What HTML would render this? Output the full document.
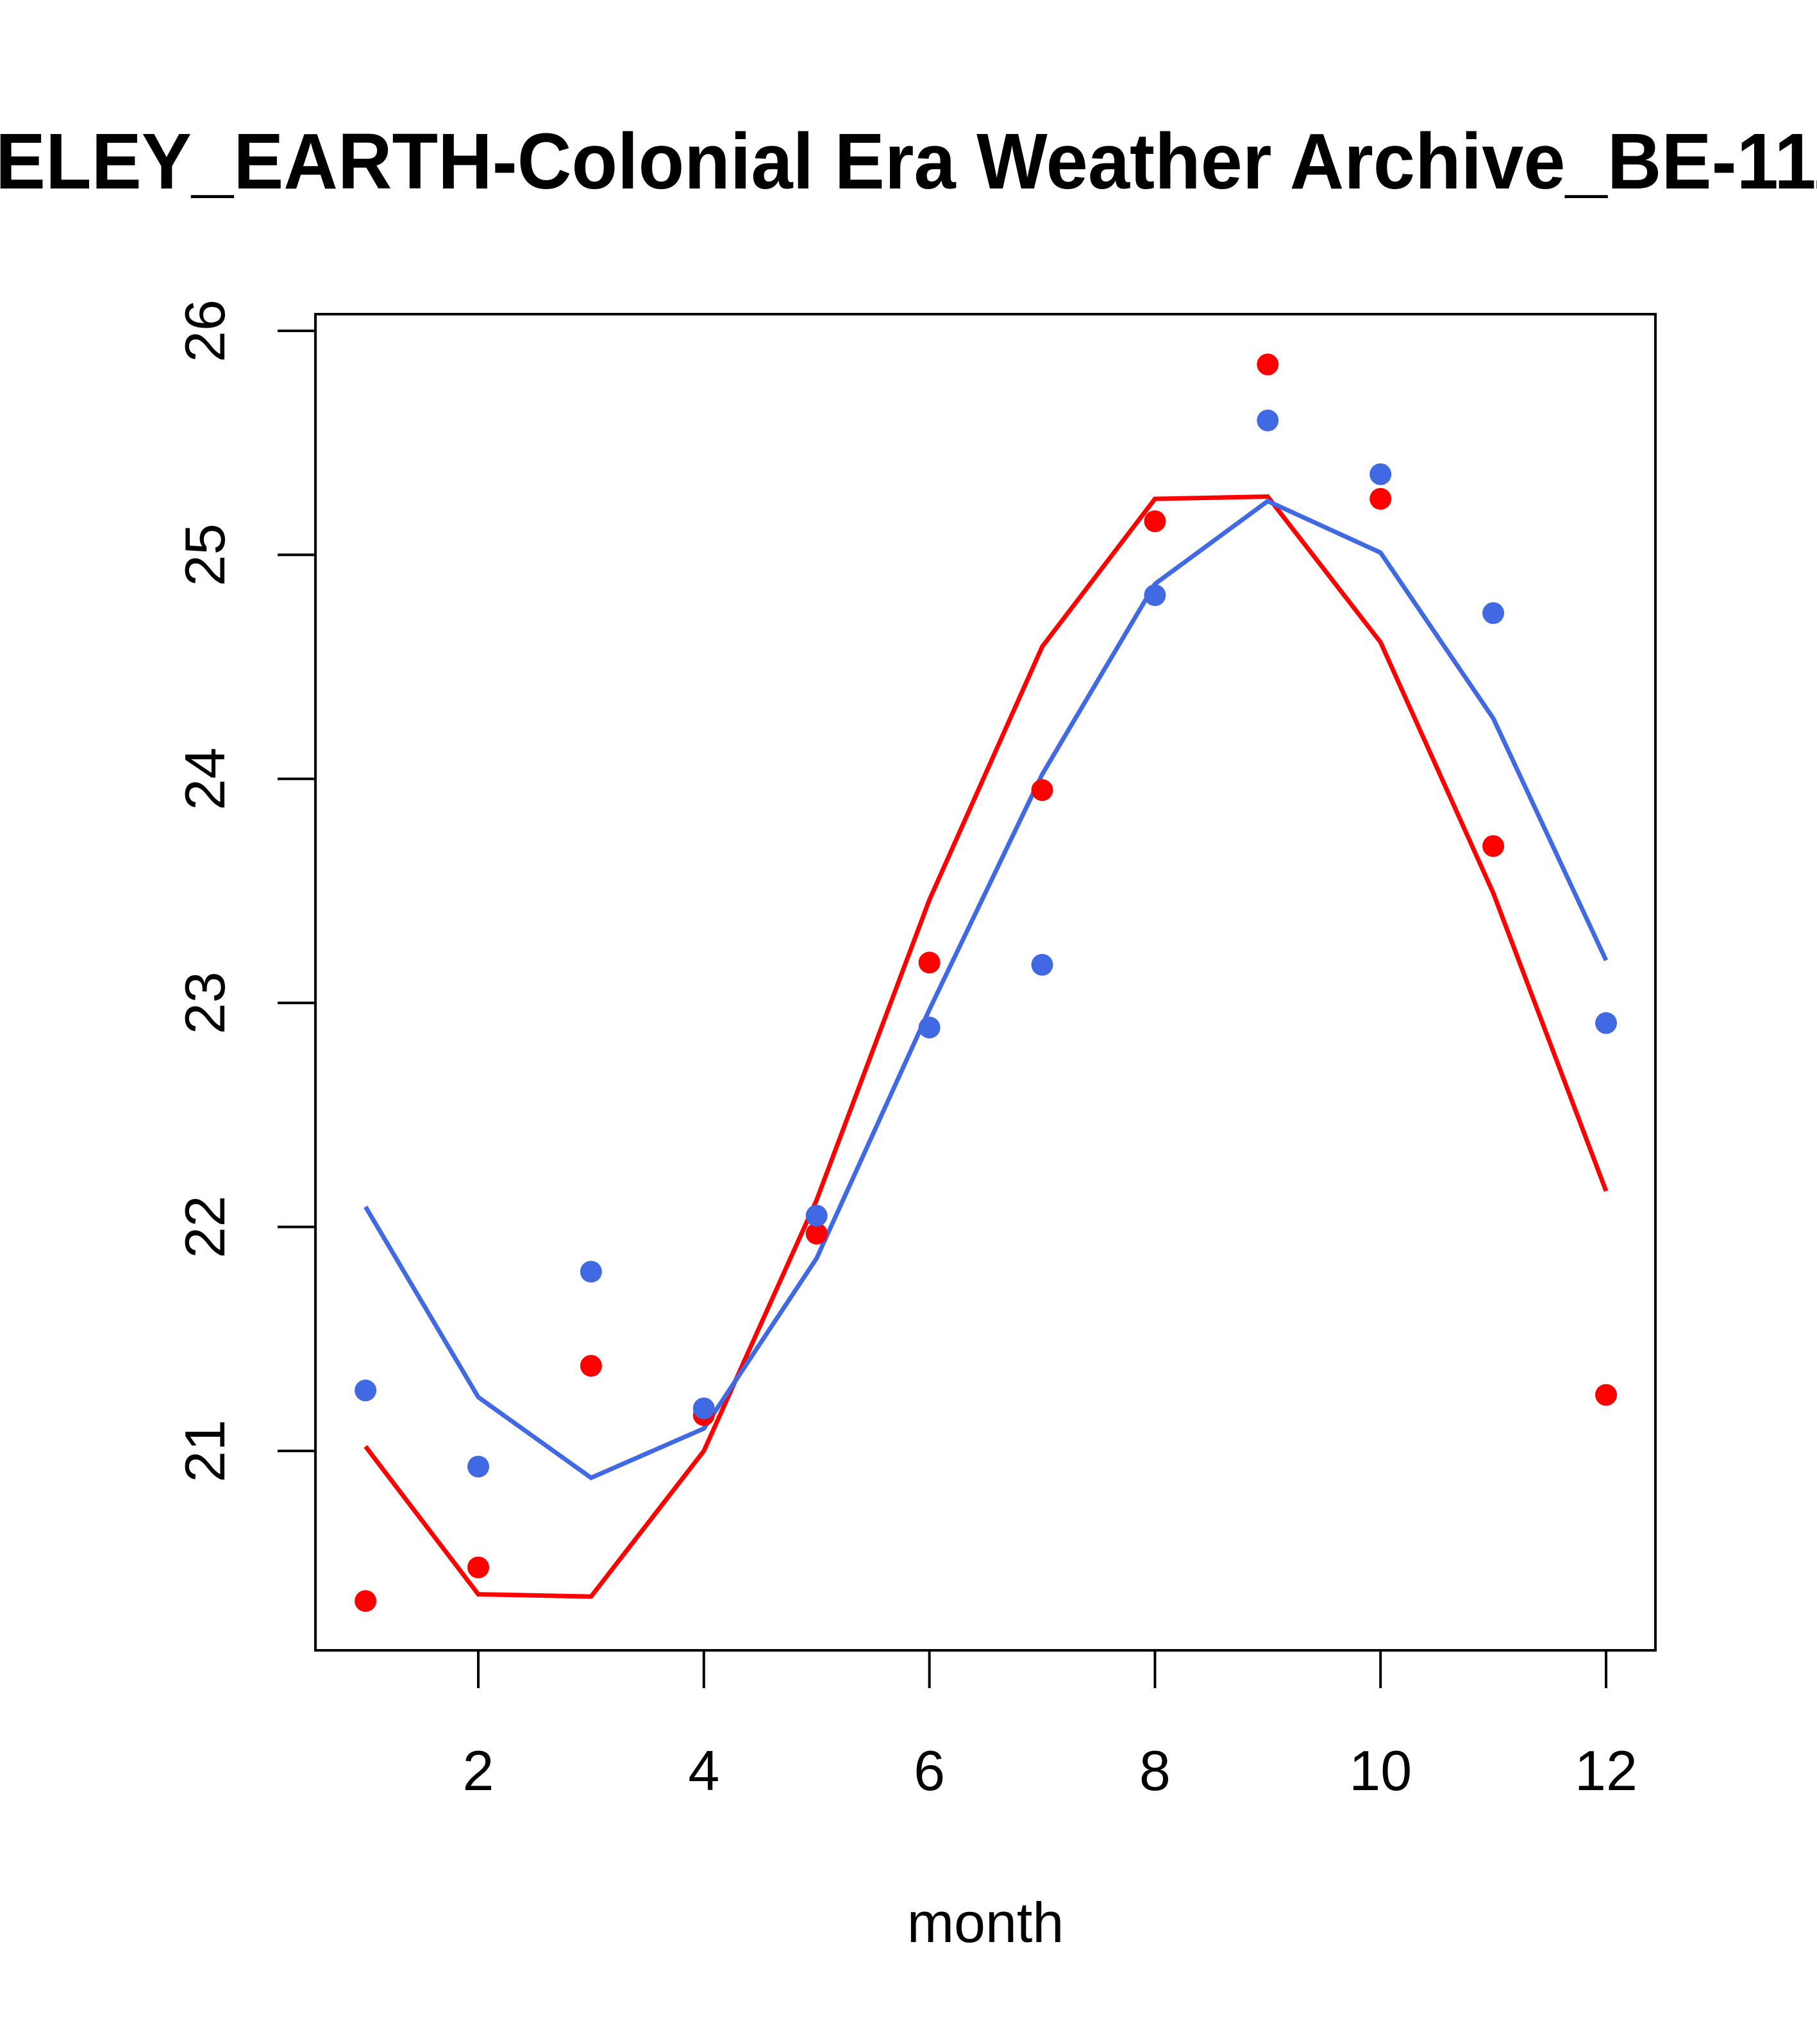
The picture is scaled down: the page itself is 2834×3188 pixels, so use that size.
<!DOCTYPE html>
<html><head><meta charset="utf-8"><style>html,body{margin:0;padding:0;background:#fff;overflow:hidden}svg{display:block}</style></head>
<body>
<svg id="chart" width="2834" height="3188" viewBox="0 0 2834 3188" xmlns="http://www.w3.org/2000/svg" font-family="Liberation Sans, sans-serif">
<text x="-356" y="294" font-size="123" font-weight="bold" text-anchor="start" transform="scale(0.953,1)">BERKELEY_EARTH-Colonial Era Weather Archive_BE-11111</text>
<rect x="492" y="490" width="2090" height="2084" fill="none" stroke="#000" stroke-width="4"/>
<g id="axes"></g>
<g id="series"></g>
<text x="1537" y="3029" font-size="88" text-anchor="middle">month</text>
</svg>
<script>
const months=[1,2,3,4,5,6,7,8,9,10,11,12];
const redPoints=[20.33,20.48,21.38,21.16,21.97,23.18,23.95,25.15,25.85,25.25,23.70,21.25];
const bluePoints=[21.27,20.93,21.80,21.19,22.05,22.89,23.17,24.82,25.60,25.36,24.74,22.91];
const redLine=[21.02,20.36,20.35,21.00,22.12,23.46,24.59,25.25,25.26,24.61,23.49,22.16];
const blueLine=[22.09,21.24,20.88,21.10,21.86,22.97,24.02,24.87,25.24,25.01,24.27,23.19];
const xTicks=[2,4,6,8,10,12];
const yTicks=[21,22,23,24,25,26];
const NS='http://www.w3.org/2000/svg';
function xs(v){return 746+(v-2)*(2505-746)/10;}
function ys(v){return 2263-(v-21)*(2263-516)/5;}
function mk(tag,attrs,parent){const e=document.createElementNS(NS,tag);for(const k in attrs)e.setAttribute(k,attrs[k]);parent.appendChild(e);return e;}
const axes=document.getElementById('axes');
const series=document.getElementById('series');
let xa=mk('line',{x1:xs(2),x2:xs(12),y1:2574,y2:2574,stroke:'#000','stroke-width':4},axes);


xTicks.forEach(t=>{
  const l=mk('line',{x1:xs(t),x2:xs(t),y1:2574,y2:2633,stroke:'#000','stroke-width':4},axes);
  
  
  const tx=mk('text',{x:xs(t),y:2792,'font-size':88,'text-anchor':'middle'},axes);
  tx.textContent=t;
  
  
});
let ya=mk('line',{x1:492,x2:492,y1:ys(21),y2:ys(26),stroke:'#000','stroke-width':4},axes);


yTicks.forEach(t=>{
  const l=mk('line',{x1:433,x2:492,y1:ys(t),y2:ys(t),stroke:'#000','stroke-width':4},axes);
  
  
  const tx=mk('text',{x:350,y:ys(t),'font-size':88,'text-anchor':'middle',transform:'rotate(-90 350 '+ys(t)+')'},axes);
  tx.textContent=t;
  
  
});
function line(vals,color,name){
  const p=mk('polyline',{points:vals.map((v,i)=>xs(months[i])+','+ys(v)).join(' '),fill:'none',stroke:color,'stroke-width':7},series);
  
  
}
function pts(vals,color,name){
  vals.forEach((v,i)=>{
    const c=mk('circle',{cx:xs(months[i]),cy:ys(v),r:17,fill:color},series);
    
    
  });
}
line(redLine,'#ff0000','red-trend-line');
line(blueLine,'#4169e1','blue-trend-line');
pts(redPoints,'#ff0000','red-point');
pts(bluePoints,'#4169e1','blue-point');
</script>
</body></html>
